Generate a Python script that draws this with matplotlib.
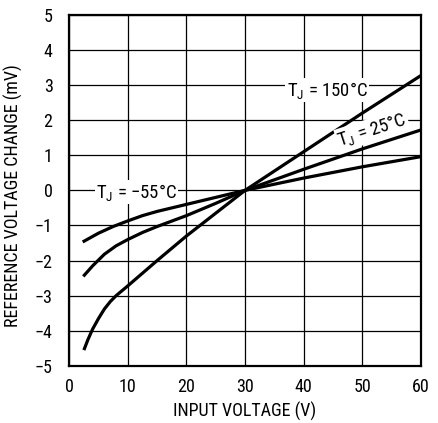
import numpy as np
import matplotlib.pyplot as plt

plt.rcParams['font.family'] = ['Roboto Condensed', 'Liberation Sans Narrow', 'DejaVu Sans Condensed',
                               'Liberation Sans', 'DejaVu Sans']
plt.rcParams['mathtext.fontset'] = 'custom'
plt.rcParams['mathtext.rm'] = 'Roboto Condensed'

# T_J = 150C (steepest curve)
x_hot = [2.5, 3.2, 4, 5, 6, 7, 8, 10, 12.5, 15, 20, 25, 30, 40, 50, 60]
y_hot = [-4.55, -4.25, -3.95, -3.65, -3.38, -3.17, -3.0, -2.72, -2.36, -2.0, -1.3, -0.65, 0, 1.1, 2.2, 3.27]
# T_J = 25C (middle curve)
x_mid = [2.4, 4, 6, 8, 10, 12.5, 15, 20, 25, 30, 40, 50, 60]
y_mid = [-2.45, -2.15, -1.82, -1.58, -1.4, -1.2, -1.03, -0.72, -0.37, 0, 0.6, 1.18, 1.72]
# T_J = -55C (flattest curve)
x_cold = [2.3, 5, 7.5, 10, 12.5, 15, 20, 25, 30, 40, 50, 60]
y_cold = [-1.47, -1.22, -1.03, -0.87, -0.72, -0.6, -0.4, -0.2, 0, 0.35, 0.67, 0.96]

xticks = [0, 10, 20, 30, 40, 50, 60]
yticks = [-5, -4, -3, -2, -1, 0, 1, 2, 3, 4, 5]
ytick_labels = ['\u22125', '\u22124', '\u22123', '\u22122', '\u22121', '0', '1', '2', '3', '4', '5']

fig = plt.figure(figsize=(4.38, 4.23), dpi=100)
ax = fig.add_axes([0.158, 0.135, 0.803, 0.83])

ax.plot(x_hot, y_hot, color='black', lw=2.3, solid_capstyle='butt', zorder=3)
ax.plot(x_mid, y_mid, color='black', lw=2.3, solid_capstyle='butt', zorder=3)
ax.plot(x_cold, y_cold, color='black', lw=2.3, solid_capstyle='butt', zorder=3)

ax.set_xlim(0, 60)
ax.set_ylim(-5, 5)
ax.set_xticks(xticks)
ax.set_yticks(yticks)
ax.set_yticklabels(ytick_labels)
ax.tick_params(length=0, labelsize=13)
ax.tick_params(axis='y', pad=12)
ax.tick_params(axis='x', pad=9)
ax.grid(True, color='black', lw=0.9)
for s in ax.spines.values():
    s.set_linewidth(1.6)

ax.set_xlabel('INPUT VOLTAGE (V)', fontsize=13, labelpad=4)
ax.set_ylabel('REFERENCE VOLTAGE CHANGE (mV)', fontsize=13)
ax.yaxis.set_label_coords(-0.13, 0.485)

box = dict(facecolor='white', edgecolor='none', pad=1)
ax.text(44, 2.85, '$\\mathregular{T_J}$ = 150\u00b0C', fontsize=13.5, ha='center', va='center', bbox=box, zorder=4)
ax.text(51.7, 1.72, '$\\mathregular{T_J}$ = 25\u00b0C', fontsize=13.5, ha='center', va='center',
        rotation=18, bbox=box, zorder=4)
ax.text(11.5, -0.05, '$\\mathregular{T_J}$ = \u221255\u00b0C', fontsize=13.5, ha='center', va='center', bbox=box, zorder=4)

fig.savefig('out.png', dpi=100)
